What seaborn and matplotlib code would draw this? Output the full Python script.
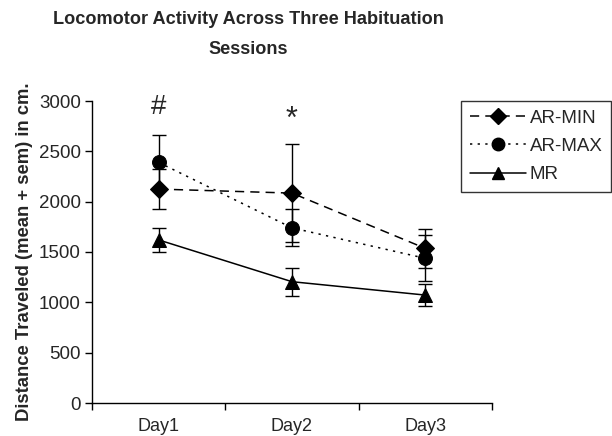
import matplotlib
matplotlib.use("Agg")
import matplotlib.pyplot as plt
import seaborn as sns
import pandas as pd
import numpy as np
from matplotlib.lines import Line2D

days = ["Day1", "Day2", "Day3"]
ar_min = [2125, 2085, 1536]
ar_min_sem = [200, 485, 190]
ar_max = [2390, 1740, 1437]
ar_max_sem = [270, 185, 228]
mr = [1620, 1205, 1072]
mr_sem = [118, 140, 110]
groups = ["AR-MIN", "AR-MAX", "MR"]
yticks = [0, 500, 1000, 1500, 2000, 2500, 3000]

sns.set_theme(style="white")
plt.rcParams['font.family'] = ['Liberation Sans', 'DejaVu Sans']

df = pd.DataFrame({
    "day": days * 3,
    "x": list(range(3)) * 3,
    "value": ar_min + ar_max + mr,
    "sem": ar_min_sem + ar_max_sem + mr_sem,
    "group": [g for g in groups for _ in days],
})

fig = plt.figure(figsize=(6.12, 4.36), dpi=100)
ax = fig.add_axes([92/612, 1-403/436, 400/612, 302/436])

styles = {"AR-MIN": ((0, (6, 4)), "D", 9),
          "AR-MAX": ((0, (1.5, 3.5)), "o", 10),
          "MR": ("-", "^", 10)}

handles = []
for g in groups:
    sub = df[df.group == g]
    ls, mk, ms = styles[g]
    ax.errorbar(sub["x"], sub["value"], yerr=sub["sem"], fmt="none",
                ecolor="black", elinewidth=1, capsize=5, capthick=1, zorder=2)
    sns.lineplot(data=sub, x="x", y="value", ax=ax, color="black",
                 linewidth=1.1, linestyle=ls, marker=mk, markersize=ms,
                 markeredgecolor="black", markerfacecolor="black",
                 legend=False, zorder=3)
    handles.append(Line2D([], [], color="black", linewidth=1.1, linestyle=ls,
                          marker=mk, markersize=ms - 1, markerfacecolor="black"))

ax.set_xlim(-0.5, 2.5)
ax.set_ylim(0, 3000)
ax.set_yticks(yticks)
ax.set_xticks(range(3))
ax.set_xticklabels(days)
ax.set_xticks([-0.5, 0.5, 1.5, 2.5], minor=True)
ax.tick_params(axis="x", which="major", length=0, labelsize=13, pad=11)
ax.tick_params(axis="x", which="minor", length=5, width=1, direction="out",
               color="black", bottom=True)
ax.tick_params(axis="y", length=5, width=1, direction="out", color="black",
               left=True, labelsize=13.5, pad=3)
for s in ["top", "right"]:
    ax.spines[s].set_visible(False)
for s in ["left", "bottom"]:
    ax.spines[s].set_color("black")
    ax.spines[s].set_linewidth(1)
ax.set_xlabel("")
ax.set_ylabel("Distance Traveled (mean + sem) in cm.", fontsize=13.3,
              fontweight="bold", labelpad=4)
ax.set_facecolor("white")

ax.text(0, 2940, "#", ha="center", va="center", fontsize=20)
ax.text(1, 2810, "*", ha="center", va="center", fontsize=22)

fig.text(248/612, 1-20/436, "Locomotor Activity Across Three Habituation",
         ha="center", va="center", fontsize=13.1, fontweight="bold")
fig.text(248/612, 1-50/436, "Sessions",
         ha="center", va="center", fontsize=13.1, fontweight="bold")

leg = fig.legend(handles, groups, loc="upper right",
                 bbox_to_anchor=(611/612, 1-101/436), borderaxespad=0,
                 frameon=True, fancybox=False, edgecolor="black",
                 fontsize=13.5, handlelength=3.0, handletextpad=0.2,
                 borderpad=0.45, labelspacing=0.6)
leg.get_frame().set_linewidth(1)

fig.savefig("out.png", dpi=100, facecolor="white")
